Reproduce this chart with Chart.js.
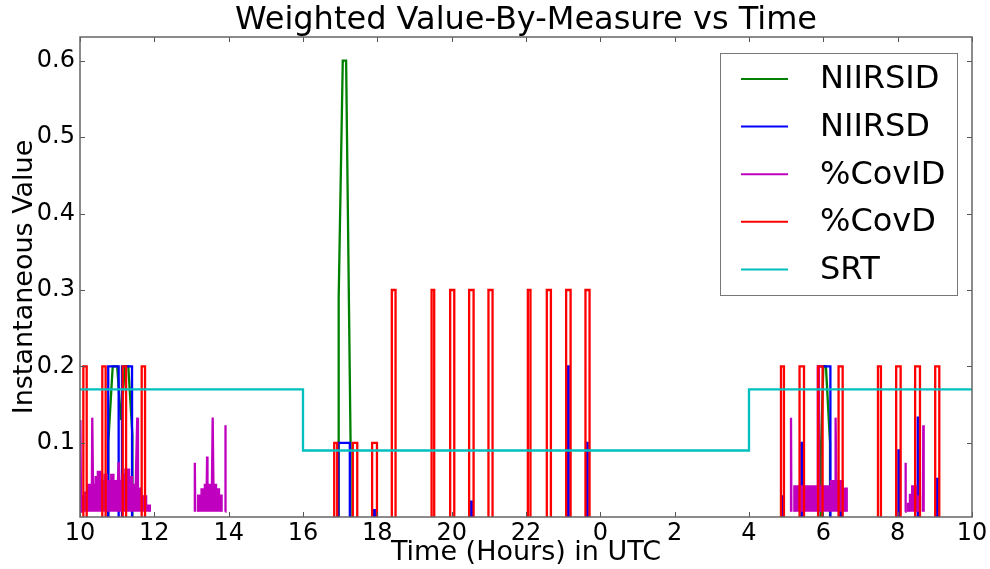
<!DOCTYPE html>
<html>
<head>
<meta charset="utf-8">
<script src="https://cdn.jsdelivr.net/npm/chart.js@4/dist/chart.umd.min.js"></script>
<style>
  html, body { margin: 0; padding: 0; background: #fff; }
</style>
</head>
<body>
<canvas id="chart" width="990" height="569"></canvas>
<script>
// hours since 10:00 UTC of day 1 (34 = 10:00 next day)
const xTicks = [10, 12, 14, 16, 18, 20, 22, 24, 26, 28, 30, 32, 34];
const xTickLabels = ['10', '12', '14', '16', '18', '20', '22', '0', '2', '4', '6', '8', '10'];
const yTicks = [0.1, 0.2, 0.3, 0.4, 0.5, 0.6];

// NIIRSID: sampled line, [hour, value]
const niirsid = [
    [10, 0], [10.76, 0], [10.76, 0.1], [10.88, 0.2], [11.0, 0.2], [11.1, 0.13], [11.21, 0.2],
    [11.3, 0.2], [11.41, 0.11], [11.41, 0],
    [16.95, 0], [16.96, 0.29], [17.07, 0.6], [17.16, 0.6], [17.28, 0.1], [17.28, 0],
    [29.92, 0], [29.93, 0.08], [30.0, 0.2], [30.07, 0.2], [30.18, 0.1], [30.18, 0], [34, 0]
];

// NIIRSD: step changes, [hour, new value]
const niirsd = [
    [10, 0], [10.76, 0.2], [11.04, 0], [11.13, 0.2], [11.4, 0],
    [16.95, 0.1], [17.26, 0], [17.91, 0.012], [17.94, 0], [20.51, 0.023], [20.55, 0],
    [23.12, 0.2], [23.15, 0], [23.63, 0.1], [23.66, 0],
    [28.89, 0.03], [28.92, 0], [29.41, 0.1], [29.44, 0], [29.86, 0.2], [30.19, 0],
    [30.45, 0.05], [30.48, 0], [32.02, 0.09], [32.05, 0], [32.54, 0.133], [32.57, 0],
    [33.06, 0.053], [33.09, 0], [34, 0]
];

// %CovID: envelope of the noisy band, null = no data
const covId = [
    [10.0, 0.01], [10.01, 0.13], [10.03, 0.01], [10.06, 0.01], [10.06, 0.03], [10.1, 0.03],
    [10.1, 0.02], [10.14, 0.02], [10.14, 0.035], [10.22, 0.035], [10.22, 0.045], [10.32, 0.045],
    [10.33, 0.133], [10.35, 0.045], [10.42, 0.045], [10.42, 0.055], [10.48, 0.055], [10.48, 0.062],
    [10.55, 0.062], [10.55, 0.05], [10.66, 0.05], [10.66, 0.058], [10.72, 0.058], [10.72, 0.05],
    [10.84, 0.05], [10.84, 0.058], [10.9, 0.058], [10.9, 0.05], [11.02, 0.05], [11.04, 0.075],
    [11.06, 0.05], [11.14, 0.05], [11.14, 0.058], [11.22, 0.058], [11.22, 0.065], [11.32, 0.065],
    [11.32, 0.055], [11.4, 0.055], [11.4, 0.045], [11.5, 0.045], [11.54, 0.133], [11.56, 0.04],
    [11.62, 0.04], [11.62, 0.03], [11.78, 0.03], [11.78, 0.018], [11.88, 0.018], [11.88, 0.01],
    [11.95, null],
    [13.09, 0.01], [13.09, 0.074], [13.1, 0.01], [13.14, null],
    [13.18, 0.01], [13.18, 0.031], [13.27, 0.031], [13.27, 0.039], [13.36, 0.039], [13.36, 0.045],
    [13.41, 0.045], [13.42, 0.082], [13.43, 0.045], [13.55, 0.045], [13.57, 0.133], [13.59, 0.045],
    [13.66, 0.045], [13.66, 0.039], [13.74, 0.039], [13.74, 0.031], [13.81, 0.031], [13.81, 0.01],
    [13.86, null],
    [13.91, 0.01], [13.91, 0.123], [13.92, 0.01], [14.0, null],
    [29.13, 0.01], [29.13, 0.133], [29.14, 0.01], [29.18, null],
    [29.22, 0.01], [29.22, 0.043], [29.3, 0.043], [29.3, 0.03], [29.33, 0.03], [29.33, 0.043],
    [29.42, 0.043], [29.42, 0.035], [29.46, 0.035], [29.46, 0.043], [29.55, 0.043], [29.55, 0.035],
    [29.6, 0.035], [29.6, 0.043], [29.7, 0.043], [29.7, 0.035], [29.74, 0.035], [29.74, 0.043],
    [29.84, 0.043], [29.85, 0.2], [29.88, 0.2], [29.89, 0.043], [30.0, 0.043], [30.0, 0.035],
    [30.06, 0.035], [30.06, 0.043], [30.2, 0.043], [30.2, 0.05], [30.32, 0.05], [30.33, 0.133],
    [30.35, 0.05], [30.52, 0.05], [30.52, 0.04], [30.63, 0.04], [30.63, 0.01], [30.7, null],
    [32.2, 0.01], [32.21, 0.074], [32.22, 0.01], [32.25, null],
    [32.28, 0.01], [32.28, 0.02], [32.33, 0.02], [32.33, 0.032], [32.39, 0.032], [32.39, 0.043],
    [32.5, 0.043], [32.5, 0.03], [32.6, 0.03], [32.6, 0.01], [32.64, null],
    [32.68, 0.01], [32.69, 0.123], [32.7, 0.01]
];

// %CovD: step changes, [hour, new value]
const covD = [
    [10, 0], [10.09, 0.2], [10.18, 0], [10.6, 0.2], [10.69, 0], [11.15, 0.2], [11.24, 0],
    [11.66, 0.2], [11.75, 0],
    [16.84, 0.1], [16.92, 0], [17.34, 0.1], [17.46, 0], [17.86, 0.1], [17.99, 0],
    [18.39, 0.3], [18.49, 0], [19.46, 0.3], [19.53, 0], [19.96, 0.3], [20.07, 0],
    [20.47, 0.3], [20.59, 0], [20.99, 0.3], [21.1, 0], [22.05, 0.3], [22.12, 0],
    [22.56, 0.3], [22.67, 0], [23.08, 0.3], [23.2, 0], [23.6, 0.3], [23.71, 0],
    [28.86, 0.2], [28.94, 0], [29.36, 0.2], [29.48, 0], [29.86, 0.2], [29.98, 0],
    [30.41, 0.2], [30.52, 0], [31.47, 0.2], [31.55, 0], [31.96, 0.2], [32.08, 0],
    [32.47, 0.2], [32.6, 0], [33.01, 0.2], [33.12, 0], [34, 0]
];

// SRT: step changes, [hour, new value]
const srt = [[10, 0.17], [16, 0.09], [28, 0.17], [34, 0.17]];

const toXY = pts => pts.map(p => ({x: p[0], y: p[1]}));

Chart.defaults.font.family = "'DejaVu Sans', sans-serif";
Chart.defaults.color = '#000';

// matplotlib-like frame, inward ticks and legend box
const axesDecor = {
    id: 'axesDecor',
    afterDatasetsDraw(chart) {
        const ctx = chart.ctx;
        const a = chart.chartArea;
        const xs = chart.scales.x, ys = chart.scales.y;
        ctx.save();
        ctx.strokeStyle = '#555';
        ctx.lineWidth = 1;
        ctx.beginPath();
        xTicks.forEach(v => {
            const px = Math.round(xs.getPixelForValue(v)) + 0.5;
            ctx.moveTo(px, a.bottom); ctx.lineTo(px, a.bottom - 5);
            ctx.moveTo(px, a.top); ctx.lineTo(px, a.top + 5);
        });
        yTicks.forEach(v => {
            const py = Math.round(ys.getPixelForValue(v)) + 0.5;
            ctx.moveTo(a.left, py); ctx.lineTo(a.left + 5, py);
            ctx.moveTo(a.right, py); ctx.lineTo(a.right - 5, py);
        });
        ctx.stroke();
        ctx.strokeStyle = '#666';
        ctx.lineWidth = 1.5;
        ctx.strokeRect(a.left, a.top, a.right - a.left, a.bottom - a.top);
        ctx.restore();
    },
    afterDraw(chart) {
        const ctx = chart.ctx;
        const a = chart.chartArea;
        const left = a.right - 252, top = a.top + 16, w = 237, h = 242;
        ctx.save();
        ctx.fillStyle = '#fff';
        ctx.fillRect(left, top, w, h);
        ctx.strokeStyle = '#777';
        ctx.lineWidth = 1;
        ctx.strokeRect(left + 0.5, top + 0.5, w, h);
        ctx.font = "32px 'DejaVu Sans'";
        ctx.textBaseline = 'middle';
        ctx.textAlign = 'left';
        chart.data.datasets.forEach((ds, i) => {
            const y = top + 26 + i * 47.6;
            ctx.strokeStyle = ds.borderColor;
            ctx.lineWidth = 2;
            ctx.beginPath();
            ctx.moveTo(left + 21, y);
            ctx.lineTo(left + 68, y);
            ctx.stroke();
            ctx.fillStyle = '#000';
            ctx.fillText(ds.label, left + 100, y + 1);
        });
        ctx.restore();
    }
};

const lineDefaults = {borderWidth: 2.3, pointRadius: 0, tension: 0, fill: false};

new Chart(document.getElementById('chart'), {
    type: 'line',
    data: {
        datasets: [
            {...lineDefaults, label: 'NIIRSID', data: toXY(niirsid), borderColor: '#008000', order: 4},
            {...lineDefaults, label: 'NIIRSD', data: toXY(niirsd), borderColor: '#0000ff', stepped: true, order: 3},
            {...lineDefaults, label: '%CovID', data: toXY(covId), borderColor: '#bf00bf',
                backgroundColor: '#bf00bf', fill: {target: {value: 0.01}}, order: 2},
            {...lineDefaults, label: '%CovD', data: toXY(covD), borderColor: '#ff0000', stepped: true, order: 1},
            {...lineDefaults, label: 'SRT', data: toXY(srt), borderColor: '#00bfbf', stepped: true, order: 0}
        ]
    },
    options: {
        responsive: false,
        animation: false,
        layout: {padding: {left: 0, right: 18, top: 0, bottom: 0}},
        plugins: {
            legend: {display: false},
            tooltip: {enabled: false},
            title: {
                display: true,
                fullSize: false,
                text: 'Weighted Value-By-Measure vs Time',
                color: '#000',
                font: {size: 32, weight: 'normal', lineHeight: 1},
                padding: {top: 5, bottom: 0}
            }
        },
        scales: {
            x: {
                type: 'linear',
                min: 10,
                max: 34,
                grid: {display: false},
                border: {display: false},
                afterBuildTicks: s => { s.ticks = xTicks.map(v => ({value: v})); },
                afterFit: s => { s.height = 52; },
                ticks: {
                    autoSkip: false,
                    maxRotation: 0,
                    padding: -6,
                    font: {size: 24},
                    callback: (v, i) => xTickLabels[i]
                },
                title: {
                    display: true,
                    text: 'Time (Hours) in UTC',
                    font: {size: 27},
                    padding: {top: 0, bottom: 0}
                }
            },
            y: {
                min: 0.003,
                max: 0.631,
                grid: {display: false},
                border: {display: false},
                afterBuildTicks: s => { s.ticks = yTicks.map(v => ({value: v})); },
                afterFit: s => { s.width = 80; },
                ticks: {
                    padding: -3,
                    font: {size: 24},
                    callback: v => v.toFixed(1)
                },
                title: {
                    display: true,
                    text: 'Instantaneous Value',
                    font: {size: 27},
                    padding: {top: 9, bottom: 0}
                }
            }
        }
    },
    plugins: [axesDecor]
});
</script>
</body>
</html>
